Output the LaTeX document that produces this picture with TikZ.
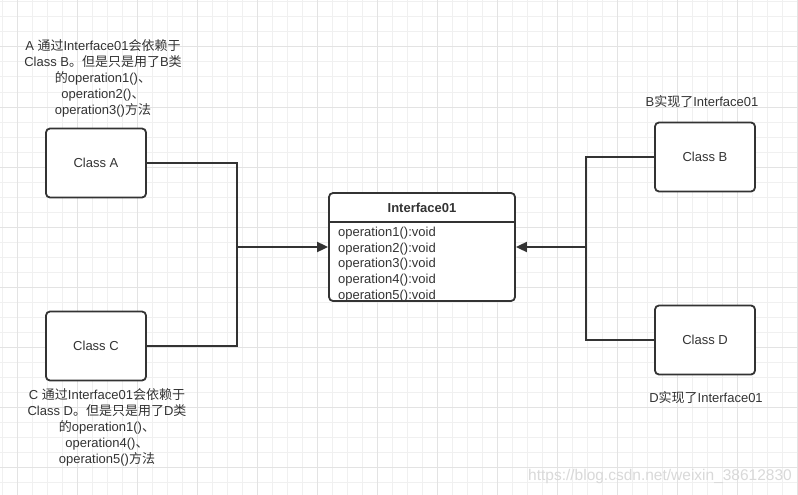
\documentclass[tikz,border=0pt]{standalone}
\usepackage{fontspec}
\setmainfont{Liberation Sans}
\newfontfamily\cjk{Noto Sans CJK SC}
\usetikzlibrary{arrows.meta}
\definecolor{gridminor}{HTML}{F0F0F0}
\definecolor{gridmajor}{HTML}{E3E3E3}
\definecolor{ink}{HTML}{333333}
\definecolor{wmark}{HTML}{D9D9D9}

\begin{document}
\begin{tikzpicture}[x=1pt, y=-1pt,
  classbox/.style={draw=ink, line width=1.8pt, rounded corners=4pt, fill=white, minimum width=100pt, minimum height=69pt, font=\fontsize{13}{16}\selectfont, text=ink},
  note/.style={align=center, inner sep=0pt, font=\fontsize{13}{16}\selectfont, text=ink},
  link/.style={draw=ink, line width=1.8pt},
  >={Triangle[length=11pt,width=10pt]}]
\useasboundingbox (0,0) rectangle (798,495);
\fill[white](0,0) rectangle (798,495);
% grid paper
\foreach \x in {2,17,...,797}{
	\draw[gridminor, line width=1pt](\x,0)--(\x,495);
}
\foreach \y in {2,17,...,494}{
	\draw[gridminor, line width=1pt](0,\y)--(798,\y);
}
\foreach \x in {17,77,...,797}{
	\draw[gridmajor, line width=1pt](\x,0)--(\x,495);
}
\foreach \y in {47,107,...,494}{
	\draw[gridmajor, line width=1pt](0,\y)--(798,\y);
}

% classes
\node[classbox] (classA) at (96,163) {Class A};
\node[classbox] (classC) at (96,346) {Class C};
\node[classbox] (classB) at (705,157) {Class B};
\node[classbox] (classD) at (705,340) {Class D};

% interface
\node[draw=ink, line width=1.8pt, rounded corners=4pt, fill=white, minimum width=186pt, minimum height=108pt] (iface) at (422,247) {};
\draw[ink, line width=1.8pt](iface.west |- 0,222)--(iface.east |- 0,222);
\node[note, font=\fontsize{13}{16}\selectfont\bfseries] (ifaceTitle) at (422,208) {Interface01};
\node[note, align=left, anchor=west, font=\fontsize{13}{15.75}\selectfont] (ifaceOps) at (338,264.5) {operation1():void\\operation2():void\\operation3():void\\operation4():void\\operation5():void};

% connectors
\coordinate (joinL) at (237,247);
\coordinate (joinR) at (586,247);
\draw[link](classA.east) -| (joinL) |- (classC.east);
\draw[link, ->](joinL)--(iface.west);
\draw[link](classB.west) -| (joinR) |- (classD.west);
\draw[link, ->](joinR)--(iface.east);

% notes
\node[note] (noteA) at (103,78) {A {\cjk 通过}Interface01{\cjk 会依赖于}\\Class B{\cjk 。但是只是用了}B{\cjk 类}\\{\cjk 的}operation1(){\cjk 、}\\operation2(){\cjk 、}\\operation3(){\cjk 方法}};
\node[note] (noteC) at (107,427.5) {C {\cjk 通过}Interface01{\cjk 会依赖于}\\Class D{\cjk 。但是只是用了}D{\cjk 类}\\{\cjk 的}operation1(){\cjk 、}\\operation4(){\cjk 、}\\operation5(){\cjk 方法}};
\node[note] (noteB) at (702,102) {B{\cjk 实现了}Interface01};
\node[note] (noteD) at (706,398) {D{\cjk 实现了}Interface01};

\node[text=wmark, inner sep=0pt, font=\fontsize{15.5}{18}\selectfont] (watermark) at (660,476) {https://blog.csdn.net/weixin\_38612830};
\end{tikzpicture}
\end{document}
